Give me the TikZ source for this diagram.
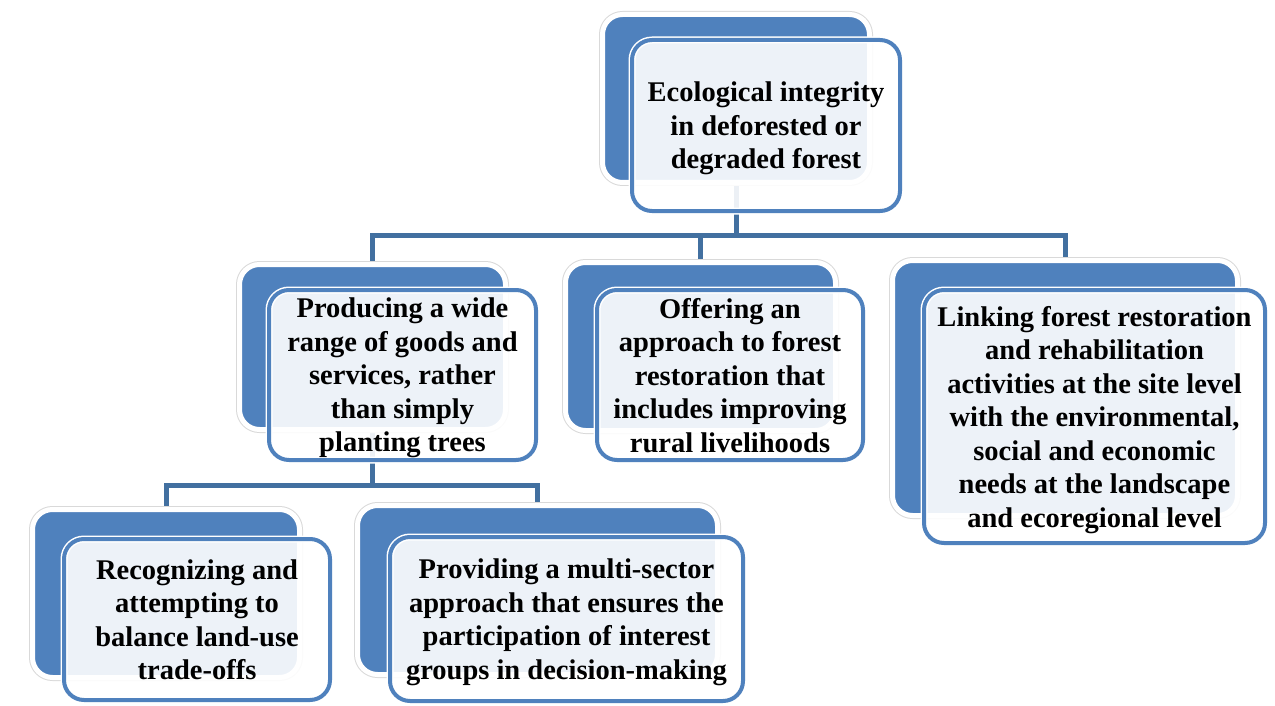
\documentclass[tikz,border=0pt]{standalone}
\usepackage{fontspec}
\setmainfont{Liberation Serif}
\definecolor{accent}{RGB}{79,129,189}
\definecolor{connc}{RGB}{66,112,160}
\begin{document}
\begin{tikzpicture}[x=1pt,y=-1pt,
  backbox/.style={rounded corners=20pt, fill=accent, draw=white, line width=5pt,
    preaction={draw=black!15, line width=7pt}, inner sep=0pt},
  frontbox/.style={rounded corners=20pt, fill=white, fill opacity=0.9, text opacity=1,
    draw=accent, line width=4pt, preaction={draw=white, line width=7pt},
    inner sep=0pt, align=center, text depth=0pt,
    font=\bfseries\fontsize{28.5}{33.5}\selectfont},
  conn/.style={draw=connc, line width=5pt}]
\useasboundingbox (0,0) rectangle (1275,706);

% levels of the two horizontal buses
\coordinate (bus1) at (0,235);
\coordinate (bus2) at (0,485);

% centres of the back plates, used as connector anchors
\path (736,98.5) coordinate (rootC);
\path (372.5,347) coordinate (prodC);
\path (700.5,346.5) coordinate (offC);
\path (1065,388) coordinate (linkC);
\path (166,593.5) coordinate (recC);
\path (537.5,590) coordinate (provC);

% connectors, drawn first so the plates cover them
\draw[conn] (rootC) -- (rootC |- bus1);
\draw[conn] (prodC) |- (linkC |- bus1) -- (linkC);
\draw[conn] (offC) -- (offC |- bus1);
\draw[conn] (prodC) -- (prodC |- bus2);
\draw[conn] (recC) |- (provC |- bus2) -- (provC);

% back plates
\node[backbox, minimum width=267pt, minimum height=168pt] (rootB) at (rootC) {};
\node[backbox, minimum width=266pt, minimum height=165pt] (prodB) at (prodC) {};
\node[backbox, minimum width=270pt, minimum height=168pt] (offB) at (offC) {};
\node[backbox, minimum width=345pt, minimum height=255pt] (linkB) at (linkC) {};
\node[backbox, minimum width=267pt, minimum height=168pt] (recB) at (recC) {};
\node[backbox, minimum width=360pt, minimum height=169pt] (provB) at (provC) {};

% front cards with the texts
\node[frontbox, minimum width=268pt, minimum height=171pt] (rootF) at (766,125.5)
  {Ecological integrity\\in deforested or\\degraded forest};
\node[frontbox, minimum width=267pt, minimum height=170pt] (prodF) at (402.5,375)
  {Producing a wide\\range of goods and\\services, rather\\than simply\\planting trees};
\node[frontbox, minimum width=266pt, minimum height=170pt] (offF) at (730,375)
  {Offering an\\approach to forest\\restoration that\\includes improving\\rural livelihoods};
\node[frontbox, minimum width=341pt, minimum height=253pt] (linkF) at (1094.5,416.5)
  {Linking forest restoration\\and rehabilitation\\activities at the site level\\with the environmental,\\social and economic\\needs at the landscape\\and ecoregional level};
\node[frontbox, minimum width=266pt, minimum height=161pt] (recF) at (197,619.5)
  {Recognizing and\\attempting to\\balance land-use\\trade-offs};
\node[frontbox, minimum width=353pt, minimum height=164pt] (provF) at (566.5,619)
  {Providing a multi-sector\\approach that ensures the\\participation of interest\\groups in decision-making};
\end{tikzpicture}
\end{document}
